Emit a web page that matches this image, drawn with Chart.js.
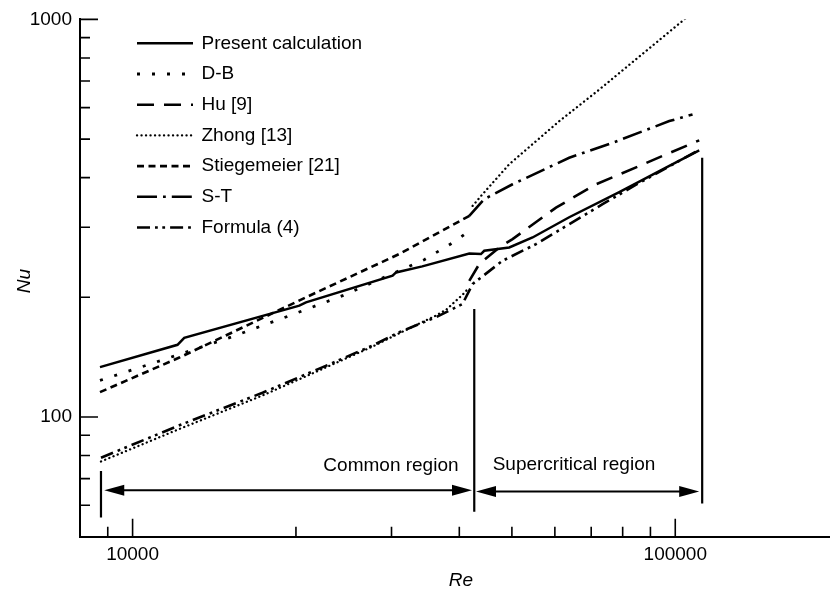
<!DOCTYPE html>
<html>
<head>
<meta charset="utf-8">
<title>Nu vs Re</title>
<script src="https://cdn.jsdelivr.net/npm/chart.js@4.4.1/dist/chart.umd.min.js"></script>
<style>
  html, body { margin: 0; padding: 0; background: #fff; }
  #wrap { width: 830px; height: 590px; }
</style>
</head>
<body>
<div id="wrap"><canvas id="chart" width="830" height="590"></canvas></div>
<script>
(function () {
  'use strict';

  /* ── Data (Re, Nu) ── */
  var presentRe = [8708, 12100, 12450, 20290, 20870, 30140, 30580, 34190, 41730, 43850, 44460, 49440, 54580, 63760, 78850, 97500, 110700];
  var presentNu = [133.5, 151.9, 158.2, 190.6, 194.2, 226.7, 231, 239.2, 257.8, 257, 261.9, 267, 282.8, 318, 368, 428, 468.5];

  var dbRe = [8708, 10810, 15180, 19860, 24380, 34480, 39440, 42320];
  var dbNu = [123.6, 136.1, 158.8, 181.7, 201.9, 248.7, 277.5, 297.9];

  var huRe = [41730, 43530, 47390, 50140, 60290, 71430, 85860, 94640, 110700];
  var huNu = [220, 242.5, 267, 280.2, 336.2, 384.9, 427.9, 453.3, 496.4];

  var zhongRe = [8745, 12195, 17360, 22080, 27690, 31000, 36230, 37810, 40550, 41730, 42000, 42320, 44140, 49440, 61140, 72440, 104300];
  var zhongNu = [77.3, 93.3, 113.3, 131, 150.4, 162.4, 180, 186, 203, 211.8, null, 339.6, 363.3, 432.2, 554.9, 666.1, 1004];

  var stiegRe = [8708, 12195, 20870, 31000, 42320];
  var stiegNu = [115.5, 141.1, 200.0, 257, 323.7];

  var stRe = [41730, 44460, 50140, 63760, 76620, 97500, 107600];
  var stNu = [320.6, 353, 384.9, 448.8, 489.4, 554.9, 576.8];

  var formulaRe = [8745, 12195, 17360, 22080, 27690, 31000, 36230, 40550, 42320, 48060, 55390, 63760, 73460, 85000, 110700];
  var formulaNu = [79.0, 95.3, 115.1, 132.3, 151.3, 163.4, 178.2, 192.5, 216, 247.2, 272.2, 305.5, 342.9, 385, 470];

  var seriesLabels = ['Present calculation', 'D-B', 'Hu [9]', 'Zhong [13]', 'Stiegemeier [21]', 'S-T', 'Formula (4)'];

  /* ── Axis ticks ── */
  var xMajorTicks = [10000, 100000];
  var xMinorTicks = [9000, 20000, 30000, 40000, 50000, 60000, 70000, 80000, 90000];
  var yMajorTicks = [100, 1000];
  var yMinorTicks = [60, 70, 80, 90, 200, 300, 400, 500, 600, 700, 800, 900];

  /* ── Region markers ── */
  var regionLineRe = [8745, 42620, 112100];
  var regionLineTop = [73.2, 187, 448.8];
  var regionLineBottom = [55.9, 57.8, 60.6];
  var regionArrowFrom = [8868, 42930];
  var regionArrowTo = [42210, 110700];
  var regionArrowNu = [65.4, 65.0];
  var regionNames = ['Common region', 'Supercritical region'];
  var regionNameRe = [29930, 65060];
  var regionNameNu = [75.6, 75.8];

  var fontFamily = "'Liberation Sans', Arial, Helvetica, sans-serif";
  var fontSize = 19;

  function series(re, nu) {
    return re.map(function (x, i) { return { x: x, y: nu[i] }; });
  }

  var styles = [
    { dash: [], width: 2.5, cap: 'butt' },
    { dash: [3, 12], width: 2.8, cap: 'butt' },
    { dash: [17, 10], width: 2.6, cap: 'butt' },
    { dash: [0.1, 4.4], width: 2.3, cap: 'round' },
    { dash: [7, 4.5], width: 2.6, cap: 'butt' },
    { dash: [20, 6, 2.8, 6], width: 2.6, cap: 'butt' },
    { dash: [13, 5, 2.8, 4.5, 2.8, 5], width: 2.6, cap: 'butt' }
  ];

  var allRe = [presentRe, dbRe, huRe, zhongRe, stiegRe, stRe, formulaRe];
  var allNu = [presentNu, dbNu, huNu, zhongNu, stiegNu, stNu, formulaNu];

  var datasets = seriesLabels.map(function (label, i) {
    return {
      label: label,
      data: series(allRe[i], allNu[i]),
      borderColor: '#000',
      backgroundColor: '#000',
      borderWidth: styles[i].width,
      borderDash: styles[i].dash,
      borderCapStyle: styles[i].cap,
      pointRadius: 0,
      tension: 0,
      fill: false,
      spanGaps: false
    };
  });

  function arrowHead(ctx, x, y, dir) {
    ctx.beginPath();
    ctx.moveTo(x, y);
    ctx.lineTo(x - dir * 20, y - 5.5);
    ctx.lineTo(x - dir * 20, y + 5.5);
    ctx.closePath();
    ctx.fill();
  }

  /* ── Inward ticks, region marks, titles, legend ── */
  var extras = {
    id: 'extras',
    afterDraw: function (chart) {
      var ctx = chart.ctx;
      var xs = chart.scales.x;
      var ys = chart.scales.y;
      var area = chart.chartArea;

      ctx.save();
      ctx.strokeStyle = '#000';
      ctx.fillStyle = '#000';
      ctx.setLineDash([]);

      // ticks pointing into the plot
      ctx.lineWidth = 1.6;
      ctx.beginPath();
      xMajorTicks.forEach(function (v) {
        var px = xs.getPixelForValue(v);
        ctx.moveTo(px, area.bottom); ctx.lineTo(px, area.bottom - 18);
      });
      xMinorTicks.forEach(function (v) {
        var px = xs.getPixelForValue(v);
        ctx.moveTo(px, area.bottom); ctx.lineTo(px, area.bottom - 10);
      });
      yMajorTicks.forEach(function (v) {
        var py = ys.getPixelForValue(v);
        ctx.moveTo(area.left, py); ctx.lineTo(area.left + 18, py);
      });
      yMinorTicks.forEach(function (v) {
        var py = ys.getPixelForValue(v);
        ctx.moveTo(area.left, py); ctx.lineTo(area.left + 10, py);
      });
      ctx.stroke();

      // region boundaries
      ctx.lineWidth = 2.2;
      ctx.beginPath();
      regionLineRe.forEach(function (v, i) {
        var px = xs.getPixelForValue(v);
        ctx.moveTo(px, ys.getPixelForValue(regionLineTop[i]));
        ctx.lineTo(px, ys.getPixelForValue(regionLineBottom[i]));
      });
      ctx.stroke();

      // double arrows
      ctx.lineWidth = 2;
      regionArrowFrom.forEach(function (v, i) {
        var x1 = xs.getPixelForValue(v);
        var x2 = xs.getPixelForValue(regionArrowTo[i]);
        var py = ys.getPixelForValue(regionArrowNu[i]);
        ctx.beginPath();
        ctx.moveTo(x1 + 10, py); ctx.lineTo(x2 - 10, py);
        ctx.stroke();
        arrowHead(ctx, x1, py, -1);
        arrowHead(ctx, x2, py, 1);
      });

      // region names
      ctx.font = fontSize + 'px ' + fontFamily;
      ctx.textAlign = 'center';
      ctx.textBaseline = 'middle';
      regionNames.forEach(function (t, i) {
        ctx.fillText(t, xs.getPixelForValue(regionNameRe[i]), ys.getPixelForValue(regionNameNu[i]));
      });

      // axis titles
      ctx.font = 'italic ' + fontSize + 'px ' + fontFamily;
      ctx.fillText('Re', 461, 581);
      ctx.save();
      ctx.translate(25, 281);
      ctx.rotate(-Math.PI / 2);
      ctx.fillText('Nu', 0, 0);
      ctx.restore();

      // legend
      ctx.font = fontSize + 'px ' + fontFamily;
      ctx.textAlign = 'left';
      chart.data.datasets.forEach(function (ds, i) {
        var ly = 43.3 + i * 30.7;
        ctx.lineWidth = ds.borderWidth;
        ctx.lineCap = ds.borderCapStyle;
        ctx.setLineDash(ds.borderDash);
        ctx.beginPath();
        ctx.moveTo(137, ly); ctx.lineTo(193, ly);
        ctx.stroke();
        ctx.setLineDash([]);
        ctx.lineCap = 'butt';
        ctx.fillText(ds.label, 201.5, ly);
      });

      ctx.restore();
    }
  };

  new Chart(document.getElementById('chart'), {
    type: 'line',
    data: { datasets: datasets },
    options: {
      responsive: false,
      animation: false,
      events: [],
      layout: { padding: { top: 18, right: 1, left: 0, bottom: 0 } },
      plugins: { legend: { display: false }, tooltip: { enabled: false } },
      scales: {
        x: {
          type: 'logarithmic',
          min: 8000,
          max: 192000,
          grid: { display: false, drawTicks: false },
          border: { display: true, color: '#000', width: 2 },
          ticks: {
            color: '#000',
            font: { family: fontFamily, size: fontSize },
            padding: 7,
            maxRotation: 0,
            autoSkip: false,
            callback: function (v) { return String(v); }
          },
          afterBuildTicks: function (scale) {
            scale.ticks = xMajorTicks.map(function (v) { return { value: v }; });
          },
          afterFit: function (scale) { scale.height = 53.3; }
        },
        y: {
          type: 'logarithmic',
          min: 50,
          max: 1000,
          grid: { display: false, drawTicks: false },
          border: { display: true, color: '#000', width: 2 },
          ticks: {
            color: '#000',
            font: { family: fontFamily, size: fontSize },
            padding: 8,
            autoSkip: false,
            callback: function (v) { return String(v); }
          },
          afterBuildTicks: function (scale) {
            scale.ticks = yMajorTicks.map(function (v) { return { value: v }; });
          },
          afterFit: function (scale) { scale.width = 80; }
        }
      }
    },
    plugins: [extras]
  });
})();
</script>
</body>
</html>
